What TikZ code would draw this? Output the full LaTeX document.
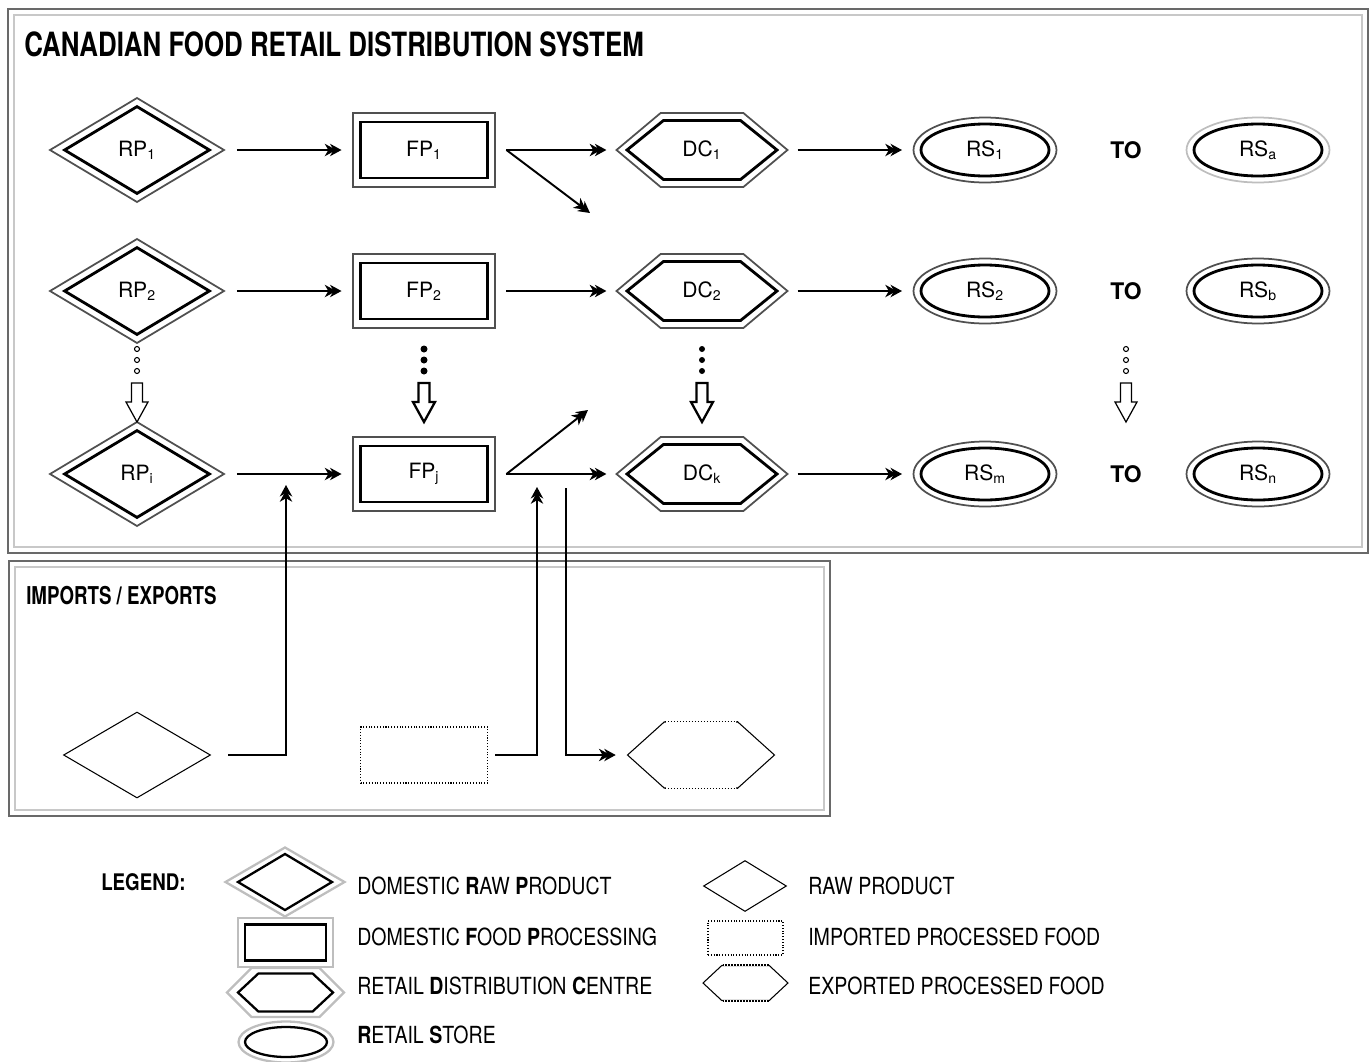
\documentclass[tikz,border=0pt]{standalone}
\usepackage{fontspec}
\setmainfont{TeX Gyre Heros}
\usepackage{graphicx}
\usetikzlibrary{shapes.geometric, shapes.symbols, arrows.meta, positioning, calc}
\definecolor{rimdark}{RGB}{80,80,80}
\definecolor{rimlight}{RGB}{190,190,190}
\definecolor{framedark}{RGB}{105,105,105}
\definecolor{framelight}{RGB}{200,200,200}

\begin{document}
\begin{tikzpicture}[x=0.02cm, y=-0.02cm,
    rim/.style={draw=rimdark, line width=1pt, inner sep=0pt, outer sep=0.23cm},
    core/.style={draw=black, line width=1.6pt, inner sep=0pt, font=\fontsize{12}{14}\selectfont},
    rpout/.style={rim, diamond, outer sep=0pt, minimum width=3.48cm, minimum height=2.08cm},
    rpin/.style={core, diamond, minimum width=2.92cm, minimum height=1.76cm},
    fpout/.style={rim, rectangle, minimum width=2.84cm, minimum height=1.48cm},
    fpin/.style={core, rectangle, minimum width=2.54cm, minimum height=1.12cm},
    dcout/.style={rim, signal, signal to=west and east, signal pointer angle=80, outer sep=0.13cm,
                  minimum width=3.42cm, minimum height=1.48cm},
    dcin/.style={core, signal, signal to=west and east, signal pointer angle=78,
                 minimum width=3.0cm, minimum height=1.18cm},
    rsout/.style={rim, ellipse, minimum width=2.86cm, minimum height=1.30cm},
    rsin/.style={core, ellipse, minimum width=2.56cm, minimum height=1.04cm},
    lgrim/.style={draw=rimlight, line width=1.3pt, inner sep=0pt},
    lgcore/.style={draw=black, line width=1.3pt, inner sep=0pt},
    thin/.style={draw=black, line width=0.6pt, inner sep=0pt},
    flow/.style={line width=1.1pt,
                 -{Stealth[length=6.5pt,width=7pt,inset=2pt,sep=-3.5pt]Stealth[length=6.5pt,width=7pt,inset=2pt]}},
    ttl/.style={font=\fontsize{19}{22}\selectfont\bfseries, xscale=0.775, anchor=west, inner sep=0pt},
    subttl/.style={font=\fontsize{14}{16}\selectfont\bfseries, xscale=0.76, anchor=west, inner sep=0pt},
    lgtxt/.style={font=\fontsize{13.4}{15}\selectfont, xscale=0.83, anchor=west, inner sep=0pt},
    tolbl/.style={font=\fontsize{13}{15}\selectfont\bfseries, inner sep=0pt}]

    \useasboundingbox (0,0) rectangle (1370,1062);

    % Frames
    \draw[framedark, line width=1pt] (8,9) rectangle (1368,553);
    \draw[framelight, line width=1pt] (14,15) rectangle (1362,547);
    \draw[framedark, line width=1pt] (9,561) rectangle (830,816);
    \draw[framelight, line width=1pt] (15,567) rectangle (824,810);

    \node[ttl] (title) at (24,44) {CANADIAN FOOD RETAIL DISTRIBUTION SYSTEM};
    \node[subttl] (imex) at (26,596) {IMPORTS / EXPORTS};

    % Domestic chain, one row at a time
    \foreach \r/\y/\a/\b/\c/\d/\e/\rc in {1/150/1/1/1/1/a/rimlight, 2/291/2/2/2/2/b/rimdark, 3/474/i/j/k/m/n/rimdark} {
        \node[rpout] (rp\r) at (137,\y) {};
        \node[rpin] (rp\r t) at (rp\r) {RP\textsubscript{\a}};
        \node[fpout] (fp\r) at (424,\y) {};
        \node[fpin] (fp\r t) at (fp\r) {FP\textsubscript{\b}};
        \node[dcout] (dc\r) at (702,\y) {};
        \node[dcin] (dc\r t) at (dc\r) {DC\textsubscript{\c}};
        \node[rsout] (rs\r) at (985,\y) {};
        \node[rsin] (rs\r t) at (rs\r) {RS\textsubscript{\d}};
        \node[tolbl] (to\r) at (1126,\y) {TO};
        \node[rsout, draw=\rc] (rz\r) at (1258,\y) {};
        \node[rsin] (rz\r t) at (rz\r) {RS\textsubscript{\e}};
    }

    % Arrows
    \foreach \r in {1,2,3} {
        \draw[flow, shorten <=0.26cm] (rp\r) -- (fp\r);
        \draw[flow] (fp\r) -- (dc\r);
        \draw[flow] (dc\r) -- (rs\r);
    }
    \coordinate (d1) at (590,213);
    \coordinate (d3) at (588,410);
    \draw[flow] (fp1.east) -- (d1);
    \draw[flow] (fp3.east) -- (d3);

    % Continuation marks
    \foreach \x in {137,1126} \foreach \y in {349,360,371}
        \draw[line width=0.6pt] (\x,\y) circle (0.05cm);
    \foreach \x/\rr in {424/0.07cm, 702/0.06cm} \foreach \y in {349,360,371}
        \fill (\x,\y) circle (\rr);
    \foreach \x/\w in {137/0.7pt, 424/1.3pt, 702/1.3pt, 1126/0.7pt}
        \draw[line width=\w, fill=white] (\x-5.5,383) -- (\x+5.5,383) -- (\x+5.5,402) -- (\x+11,402)
            -- (\x,422) -- (\x-11,402) -- (\x-5.5,402) -- cycle;

    % Imports / exports
    \node[thin, diamond, minimum width=2.94cm, minimum height=1.72cm] (imrp) at (137,755) {};
    \node[thin, densely dotted, minimum width=2.54cm, minimum height=1.12cm, outer sep=0.16cm] (imfp) at (424,755) {};
    \node[thin, signal, signal to=west and east, signal pointer angle=84,
          minimum width=2.94cm, minimum height=1.32cm] (imdc) at (701,755) {};
    \draw[white, line width=1.2pt] ($(imdc.north)+(-35,0)$) -- ($(imdc.north)+(35,0)$)
        ($(imdc.south)+(-35,0)$) -- ($(imdc.south)+(35,0)$);
    \draw[densely dotted, line width=0.7pt] ($(imdc.north)+(-36,0)$) -- ($(imdc.north)+(36,0)$)
        ($(imdc.south)+(-36,0)$) -- ($(imdc.south)+(36,0)$);

    \coordinate (j1) at (286,485);
    \coordinate (j2) at (537,487);
    \coordinate (j3) at (566,488);
    \draw[flow, shorten <=0.34cm] (imrp.east) -| (j1);
    \draw[flow] (imfp.east) -| (j2);
    \draw[flow, shorten >=0.22cm] (j3) |- (imdc.west);

    % Legend
    \node[font=\fontsize{13}{15}\selectfont\bfseries, xscale=0.82, anchor=west, inner sep=0pt] (lgd) at (101,882) {LEGEND:};

    \node[lgrim, diamond, minimum width=2.4cm, minimum height=1.4cm] (lg1) at (285,882) {};
    \node[lgcore, diamond, minimum width=1.9cm, minimum height=1.14cm] (lg1i) at (lg1) {};
    \node[lgrim, minimum width=1.9cm, minimum height=0.98cm] (lg2) at (285.5,942.5) {};
    \node[lgcore, minimum width=1.62cm, minimum height=0.72cm] (lg2i) at (lg2) {};
    \node[lgrim, signal, signal to=west and east, signal pointer angle=90,
          minimum width=2.34cm, minimum height=0.98cm] (lg3) at (285.5,992.5) {};
    \node[lgcore, signal, signal to=west and east, signal pointer angle=86,
          minimum width=1.9cm, minimum height=0.76cm] (lg3i) at (lg3) {};
    \node[lgrim, ellipse, minimum width=1.9cm, minimum height=0.82cm] (lg4) at (286,1042) {};
    \node[lgcore, ellipse, minimum width=1.64cm, minimum height=0.6cm] (lg4i) at (lg4) {};

    \node[lgtxt] (lt1) at (357,886) {DOMESTIC \textbf{R}AW \textbf{P}RODUCT};
    \node[lgtxt] (lt2) at (357,937) {DOMESTIC \textbf{F}OOD \textbf{P}ROCESSING};
    \node[lgtxt] (lt3) at (357,986) {RETAIL \textbf{D}ISTRIBUTION \textbf{C}ENTRE};
    \node[lgtxt] (lt4) at (357,1035) {\textbf{R}ETAIL \textbf{S}TORE};

    \node[thin, diamond, minimum width=1.66cm, minimum height=1.02cm] (lg5) at (745,886) {};
    \node[thin, densely dotted, line width=0.7pt, minimum width=1.5cm, minimum height=0.68cm] (lg6) at (745.5,938) {};
    \node[thin, signal, signal to=west and east, signal pointer angle=86,
          minimum width=1.7cm, minimum height=0.7cm] (lg7) at (745.5,983) {};
    \draw[white, line width=1.2pt] ($(lg7.north)+(-22,0)$) -- ($(lg7.north)+(22,0)$)
        ($(lg7.south)+(-22,0)$) -- ($(lg7.south)+(22,0)$);
    \draw[densely dotted, line width=0.7pt] ($(lg7.north)+(-23,0)$) -- ($(lg7.north)+(23,0)$)
        ($(lg7.south)+(-23,0)$) -- ($(lg7.south)+(23,0)$);

    \node[lgtxt] (lt5) at (808,886) {RAW PRODUCT};
    \node[lgtxt] (lt6) at (808,937) {IMPORTED PROCESSED FOOD};
    \node[lgtxt] (lt7) at (808,986) {EXPORTED PROCESSED FOOD};
\end{tikzpicture}
\end{document}
